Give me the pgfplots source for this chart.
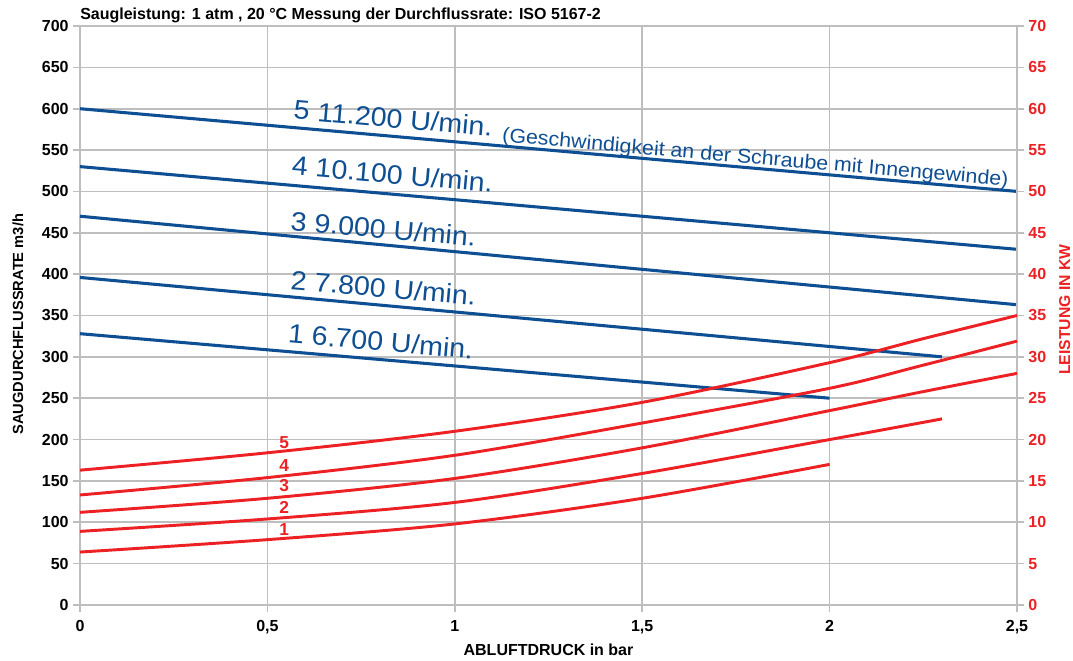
\documentclass[border=0pt]{standalone}
\usepackage{fontspec}
\setmainfont{Liberation Sans}
\usepackage{pgfplots}
\pgfplotsset{compat=1.18}

\definecolor{cblue}{RGB}{14,78,146}
\definecolor{cred}{RGB}{237,32,36}
\definecolor{cgrid}{RGB}{190,190,190}

\tikzset{
  bl/.style={cblue, line width=2.3pt},
  rd/.style={cred, line width=2.2pt, smooth, tension=0.5},
  blab/.style={cblue, anchor=base west, inner sep=0pt, rotate=-5,
    font=\fontsize{20}{24}\selectfont, xscale=1.07},
  rlab/.style={cred, font=\fontsize{13}{15}\selectfont\bfseries, inner sep=0pt},
}

\begin{document}
\begin{tikzpicture}
\pgfplotsset{
  every axis/.append style={
    scale only axis, width=702.75pt, height=434.25pt,
    xmin=0, xmax=2.5, clip=false,
    /pgf/number format/assume math mode=true,
    tick label style={font=\fontsize{12}{14}\selectfont\bfseries},
    label style={font=\fontsize{11}{13}\selectfont\bfseries},
  },
}
% left axis: suction flow rate
\begin{axis}[
  ymin=0, ymax=700, ytick={0,50,...,700},
  xtick={0,0.5,1,1.5,2,2.5}, xticklabels={0,{0,5},1,{1,5},2,{2,5}},
  xticklabel style={yshift=-3pt},
  grid=major, major grid style={cgrid, line width=1.2pt},
  axis line style={cgrid, line width=1.5pt},
  ytick pos=left, xtick pos=bottom, tick align=outside,
  major tick length=5pt, tick style={cgrid, line width=1.2pt},
  xlabel={ABLUFTDRUCK in bar},
  xlabel style={font=\fontsize{12}{14}\selectfont\bfseries, at={(axis description cs:0.5,-0.0777)}, anchor=center},
  ylabel={SAUGDURCHFLUSSRATE m3/h},
  ylabel style={at={(axis description cs:-0.0662,0.485)}, anchor=center},
]
\addplot[bl] coordinates {(0,600) (2.5,500)};
\addplot[bl] coordinates {(0,530) (2.5,430)};
\addplot[bl] coordinates {(0,470) (2.5,363)};
\addplot[bl] coordinates {(0,396) (2.3,300)};
\addplot[bl] coordinates {(0,328) (2,250)};

\node[blab] at (axis cs:0.568,587.6) {5 11.200 U/min.};
\node[blab, font=\fontsize{15}{18}\selectfont, xscale=1] at (axis cs:1.125,560) {(Geschwindigkeit an der Schraube mit Innengewinde)};
\node[blab] at (axis cs:0.563,520) {4 10.100 U/min.};
\node[blab] at (axis cs:0.560,453) {3 9.000 U/min.};
\node[blab] at (axis cs:0.560,381.7) {2 7.800 U/min.};
\node[blab] at (axis cs:0.553,317) {1 6.700 U/min.};

\node[anchor=base west, inner sep=0pt, font=\fontsize{12}{14}\selectfont\bfseries]
  at (axis description cs:0,1.0104) {Saugleistung: 1 atm , 20 °C Messung der Durchflussrate: ISO 5167-2};
\end{axis}

% right axis: power
\begin{axis}[
  ymin=0, ymax=70, ytick={0,5,...,70},
  axis x line=none, axis y line*=right,
  axis line style={-, draw=cgrid, line width=1.5pt},
  tick align=outside, major tick length=5pt, tick style={cgrid, line width=1.2pt},
  yticklabel style={text=cred},
  ylabel={LEISTUNG IN KW},
  ylabel style={font=\fontsize{11.8}{14}\selectfont\bfseries, text=cred, at={(axis description cs:1.051,0.51)}, anchor=center},
]
\addplot[rd] coordinates {(0,16.3) (0.5,18.4) (1,21.0) (1.5,24.5) (2,29.3) (2.25,32.2) (2.5,35.0)};
\addplot[rd] coordinates {(0,13.3) (0.5,15.4) (1,18.1) (1.5,22.0) (2,26.2) (2.25,29.0) (2.5,31.9)};
\addplot[rd] coordinates {(0,11.2) (0.5,12.9) (1,15.3) (1.5,19.0) (2,23.5) (2.25,25.8) (2.5,28.0)};
\addplot[rd] coordinates {(0,8.9) (0.5,10.4) (1,12.4) (1.5,15.9) (2,20.0) (2.3,22.5)};
\addplot[rd] coordinates {(0,6.4) (0.5,7.9) (1,9.8) (1.5,12.9) (2,17.0)};

\node[rlab] at (axis cs:0.545,19.6) {5};
\node[rlab] at (axis cs:0.545,16.9) {4};
\node[rlab] at (axis cs:0.545,14.4) {3};
\node[rlab] at (axis cs:0.545,11.8) {2};
\node[rlab] at (axis cs:0.545,9.15) {1};
\end{axis}

\pgfresetboundingbox
\path ([shift={(-60pt,-42pt)}]current axis.south west) rectangle ([shift={(42pt,19.5pt)}]current axis.north east);
\end{tikzpicture}
\end{document}
